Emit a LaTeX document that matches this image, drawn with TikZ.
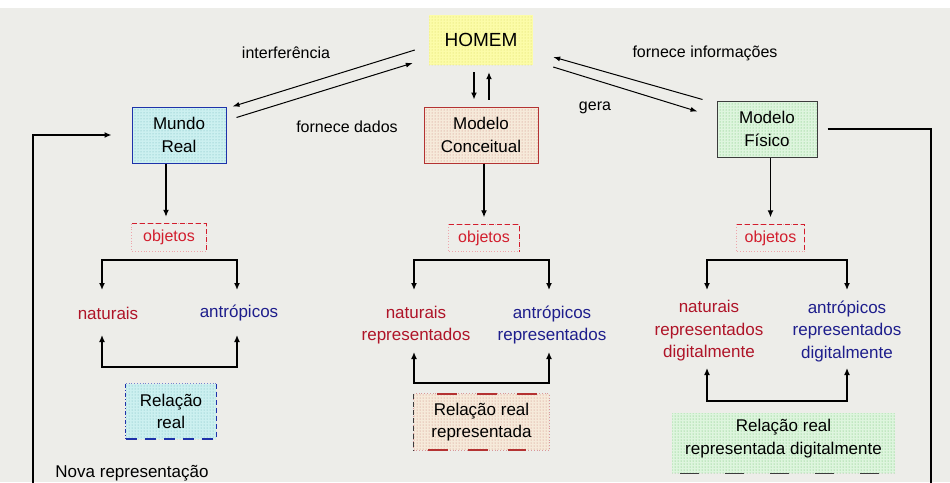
\documentclass[tikz,border=0pt]{standalone}
\usepackage{fontspec}
\setmainfont{Liberation Sans}
\usetikzlibrary{arrows.meta,calc,patterns}
\definecolor{bg}{RGB}{237,237,233}
\definecolor{hmF}{RGB}{252,252,168}
\definecolor{hmD}{RGB}{215,215,90}
\definecolor{cyF}{RGB}{204,240,240}
\definecolor{cyD}{RGB}{110,180,185}
\definecolor{blB}{RGB}{30,50,170}
\definecolor{beF}{RGB}{246,234,218}
\definecolor{beD}{RGB}{200,130,120}
\definecolor{rdB}{RGB}{180,50,50}
\definecolor{grF}{RGB}{222,245,222}
\definecolor{grD}{RGB}{100,185,100}
\definecolor{dkB}{RGB}{60,60,60}
\definecolor{txR}{RGB}{175,20,40}
\definecolor{txB}{RGB}{30,30,140}
\definecolor{objR}{RGB}{210,30,45}
\newcommand\myfs{\fontsize{17}{22.5}\selectfont}
\newcommand\mysmall{\fontsize{16}{20}\selectfont}
\begin{document}
\begin{tikzpicture}[x=1pt,y=-1pt,
  every node/.style={inner sep=0pt, align=center, font=\myfs},
  cyanbox/.style={preaction={fill=cyF}, pattern=dots, pattern color=cyD},
  beigebox/.style={preaction={fill=beF}, pattern=dots, pattern color=beD},
  greenbox/.style={preaction={fill=grF}, pattern=dots, pattern color=grD},
  yellowbox/.style={preaction={fill=hmF}, pattern=dots, pattern color=hmD},
  objbox/.style={font=\mysmall, text=objR, minimum width=#1, minimum height=27pt},
  redtxt/.style={text=txR},
  bluetxt/.style={text=txB},
  lbl/.style={font=\mysmall},
  arr/.style={-{Latex[length=7pt,width=6pt]}, line width=1.3pt},
  both/.style={{Latex[length=7pt,width=6pt]}-{Latex[length=7pt,width=6pt]}, line width=1.3pt},
  darr/.style={-{Latex[length=7pt,width=5pt]}, line width=1pt}]
\useasboundingbox (0,0) rectangle (950,482);
\fill[white] (0,0) rectangle (950,482);
\fill[bg] (0,8) rectangle (950,482);

% main boxes
\node[yellowbox, minimum width=104pt, minimum height=50pt, font=\fontsize{19}{22}\selectfont] (hm) at (481,40) {HOMEM};
\node[cyanbox, draw=blB, line width=1pt, minimum width=94pt, minimum height=56pt] (mr) at (179,135) {Mundo\\Real};
\node[beigebox, draw=rdB, line width=1pt, minimum width=114pt, minimum height=56pt] (mc) at (481,135) {Modelo\\Conceitual};
\node[greenbox, draw=dkB, line width=1pt, minimum width=100pt, minimum height=56pt] (mf) at (767,129) {Modelo\\Físico};

% diagonal arrows
\draw[darr] ($(hm.west)+(-14,10)$) -- ($(mr.north east)+(6,0)$);
\draw[darr] ($(mr.north east)+(10,11)$) -- ($(hm.west)+(-16,23)$);
\draw[darr] ($(mf.north west)+(-14,-1)$) -- ($(hm.east)+(20,17)$);
\draw[darr] ($(hm.east)+(20,27)$) -- ($(mf.north west)+(-19,11)$);
\node[lbl] (lint) at (286,53) {interferência};
\node[lbl] (lfd) at (347,127) {fornece dados};
\node[lbl] (lfi) at (705,53) {fornece informações};
\node[lbl] (lge) at (595,108) {gera};

% HOMEM <-> Modelo Conceitual
\draw[arr, shorten <=7pt, shorten >=7pt] ([xshift=-7pt]hm.south) -- ([xshift=-7pt]mc.north);
\draw[arr, shorten <=7pt, shorten >=7pt] ([xshift=8pt]mc.north) -- ([xshift=8pt]hm.south);

% objetos boxes
\node[objbox=74pt] (o1) at (169,237.5) {objetos};
\node[objbox=70pt] (o2) at (484,238) {objetos};
\node[objbox=67pt] (o3) at (770.5,238) {objetos};
\foreach \o in {o1,o2,o3}{
  \draw[objR!40, dotted, line width=0.8pt] (\o.north west) rectangle (\o.south east);
  \draw[objR, dash pattern=on 5pt off 3pt, line width=1pt] (\o.north west) -- (\o.north east) -- (\o.south east);
}

% vertical arrows to objetos
\draw[arr, shorten >=7pt] ([xshift=-3pt]o1.north |- mr.south) -- ([xshift=-3pt]o1.north);
\draw[arr, shorten >=7pt] (o2.north |- mc.south) -- (o2.north);
\draw[arr, shorten >=7pt] (o3.north |- mf.south) -- (o3.north);

% category texts
\node[redtxt] (n1) at (108,313) {naturais};
\node[bluetxt] (a1) at (239,313) {antrópicos};
\node[redtxt] (n2) at (416,325) {naturais\\representados};
\node[bluetxt] (a2) at (552,325) {antrópicos\\representados};
\node[redtxt] (n3) at (709,331) {naturais\\representados\\digitalmente};
\node[bluetxt] (a3) at (847,331) {antrópicos\\representados\\digitalmente};

% branch coordinates
\coordinate (p1a) at (102,290); \coordinate (p1b) at (102,260); \coordinate (p1c) at (237,260); \coordinate (p1d) at (237,290);
\coordinate (p2a) at (414,290); \coordinate (p2b) at (414,260); \coordinate (p2c) at (549,260); \coordinate (p2d) at (549,290);
\coordinate (p3a) at (707,290); \coordinate (p3b) at (707,260); \coordinate (p3c) at (847,260); \coordinate (p3d) at (847,290);
\draw[both] (p1a) -- (p1b) -- (p1c) -- (p1d);
\draw[both] (p2a) -- (p2b) -- (p2c) -- (p2d);
\draw[both] (p3a) -- (p3b) -- (p3c) -- (p3d);

\coordinate (q1a) at (102,335); \coordinate (q1b) at (102,367); \coordinate (q1c) at (237,367); \coordinate (q1d) at (237,335);
\coordinate (q2a) at (414,352); \coordinate (q2b) at (414,383); \coordinate (q2c) at (549,383); \coordinate (q2d) at (549,352);
\coordinate (q3a) at (707,368); \coordinate (q3b) at (707,401); \coordinate (q3c) at (847,401); \coordinate (q3d) at (847,368);
\draw[both] (q1a) -- (q1b) -- (q1c) -- (q1d);
\draw[both] (q2a) -- (q2b) -- (q2c) -- (q2d);
\draw[both] (q3a) -- (q3b) -- (q3c) -- (q3d);

% relation boxes
\node[cyanbox, minimum width=90pt, minimum height=55pt] (r1) at (171,411.5) {Relação\\real};
\draw[blB!60, dotted, line width=0.8pt] (r1.north west) -- (r1.north east);
\draw[blB, dash pattern=on 4pt off 2pt on 1pt off 2pt, line width=1pt] (r1.north west) -- (r1.south west);
\draw[blB, dash pattern=on 5pt off 3pt, line width=1pt] (r1.north east) -- (r1.south east);
\draw[blB, dash pattern=on 11pt off 8pt, line width=1.6pt] (r1.south west) -- (r1.south east);

\node[beigebox, minimum width=135pt, minimum height=56pt] (r2) at (481.5,422) {Relação real\\representada};
\draw[rdB!50, dotted, line width=0.8pt] (r2.north west) rectangle (r2.south east);
\draw[dkB, dash pattern=on 5pt off 3pt, line width=0.8pt] (r2.north west) -- (r2.south west);
\draw[rdB, dash pattern=on 0pt off 23pt on 20pt off 20pt on 20pt off 20pt on 20pt off 60pt, line width=1.5pt] (r2.north west) -- (r2.north east);
\draw[rdB, dash pattern=on 0pt off 14pt on 20pt off 20pt on 20pt off 20pt on 18pt off 60pt, line width=1.5pt] (r2.south west) -- (r2.south east);

\node[greenbox, minimum width=223pt, minimum height=60pt] (r3) at (783.5,443) {};
\node (r3t) at (783.5,438.5) {Relação real\\representada digitalmente};
\draw[dkB, dash pattern=on 0pt off 8pt on 19pt off 18pt, line width=1.4pt] (r3.south west) -- (r3.south east);

% feedback loop
\coordinate (lb) at (33,486);
\coordinate (rb) at (931,486);
\draw[arr] (lb) |- ([xshift=-20pt]mr.west);
\draw[line width=1.3pt] ([xshift=10pt]mf.east) -| (rb);
\node (nova) at (132,473) {Nova representação};
\end{tikzpicture}
\end{document}
